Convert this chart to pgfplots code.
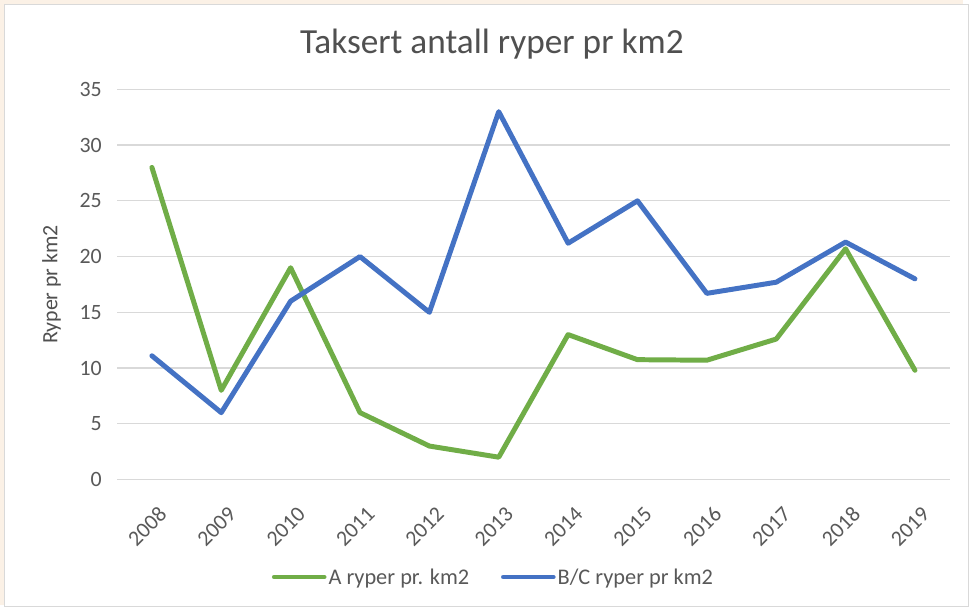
\documentclass[border=0pt]{standalone}
\usepackage{pgfplots}
\pgfplotsset{compat=1.18}
\usepackage{fontspec}
\setmainfont{Carlito}
\definecolor{cgreen}{HTML}{70AD47}
\definecolor{cblue}{HTML}{4472C4}
\definecolor{cgrid}{HTML}{D9D9D9}
\definecolor{ctext}{HTML}{595959}
\definecolor{ccream}{HTML}{FBF1E6}
\begin{document}
\begin{tikzpicture}[x=1pt,y=1pt]
\fill[ccream] (0,0) rectangle (969,609);
\filldraw[fill=white,draw=black!15,line width=1pt] (4.5,-2) rectangle (975,604.5);
\begin{axis}[
  at={(118pt,126.3pt)}, anchor=south west,
  scale only axis, width=838pt, height=392.7pt,
  xmin=-0.5, xmax=11.5, ymin=0, ymax=35,
  xtick={0,...,11},
  xticklabels={2008,2009,2010,2011,2012,2013,2014,2015,2016,2017,2018,2019},
  ytick={0,5,...,35},
  axis line style={draw=none},
  major tick length=0pt,
  ymajorgrids, grid style={cgrid, line width=1.3pt},
  /pgf/number format/assume math mode=true,
  yticklabel style={anchor=east, xshift=-12pt, font=\fontsize{22}{26}\selectfont, text=ctext},
  xticklabel style={rotate=45, anchor=east, xshift=-11pt, yshift=-30pt, font=\fontsize{22}{26}\selectfont, text=ctext},
  title={Taksert antall ryper pr km2},
  title style={at={(axis description cs:0.45,1.10)}, anchor=center, font=\fontsize{35.5}{40}\selectfont, text=ctext!90!black},
  ylabel={Ryper pr km2},
  ylabel style={at={(axis description cs:-0.0788,0.5)}, anchor=center, font=\fontsize{22}{26}\selectfont, text=ctext!90!black},
  legend style={at={(axis description cs:0.452,-0.25)}, anchor=center, draw=none, fill=none, legend columns=2, font=\fontsize{22.5}{26}\selectfont, text=ctext, /tikz/every even column/.append style={column sep=30pt}, inner sep=0pt},
  legend image code/.code={\draw[#1, line width=5pt, line cap=round] (0pt,0pt) -- (50pt,0pt);},
  every axis plot/.append style={line width=5pt, line join=round, line cap=round},
]
\addplot[cgreen, no marks] coordinates {
(0,28.0) (1,8.0) (2,19.0) (3,6.0) (4,3.0) (5,2.0) (6,13.0) (7,10.75) (8,10.7) (9,12.6) (10,20.7) (11,9.8)};
\addlegendentry{A ryper pr. km2}
\addplot[cblue, no marks] coordinates {
(0,11.1) (1,6.0) (2,16.0) (3,20.0) (4,15.0) (5,33.0) (6,21.2) (7,25.0) (8,16.7) (9,17.7) (10,21.3) (11,18.0)};
\addlegendentry{B/C ryper pr km2}
\end{axis}
\end{tikzpicture}
\end{document}
